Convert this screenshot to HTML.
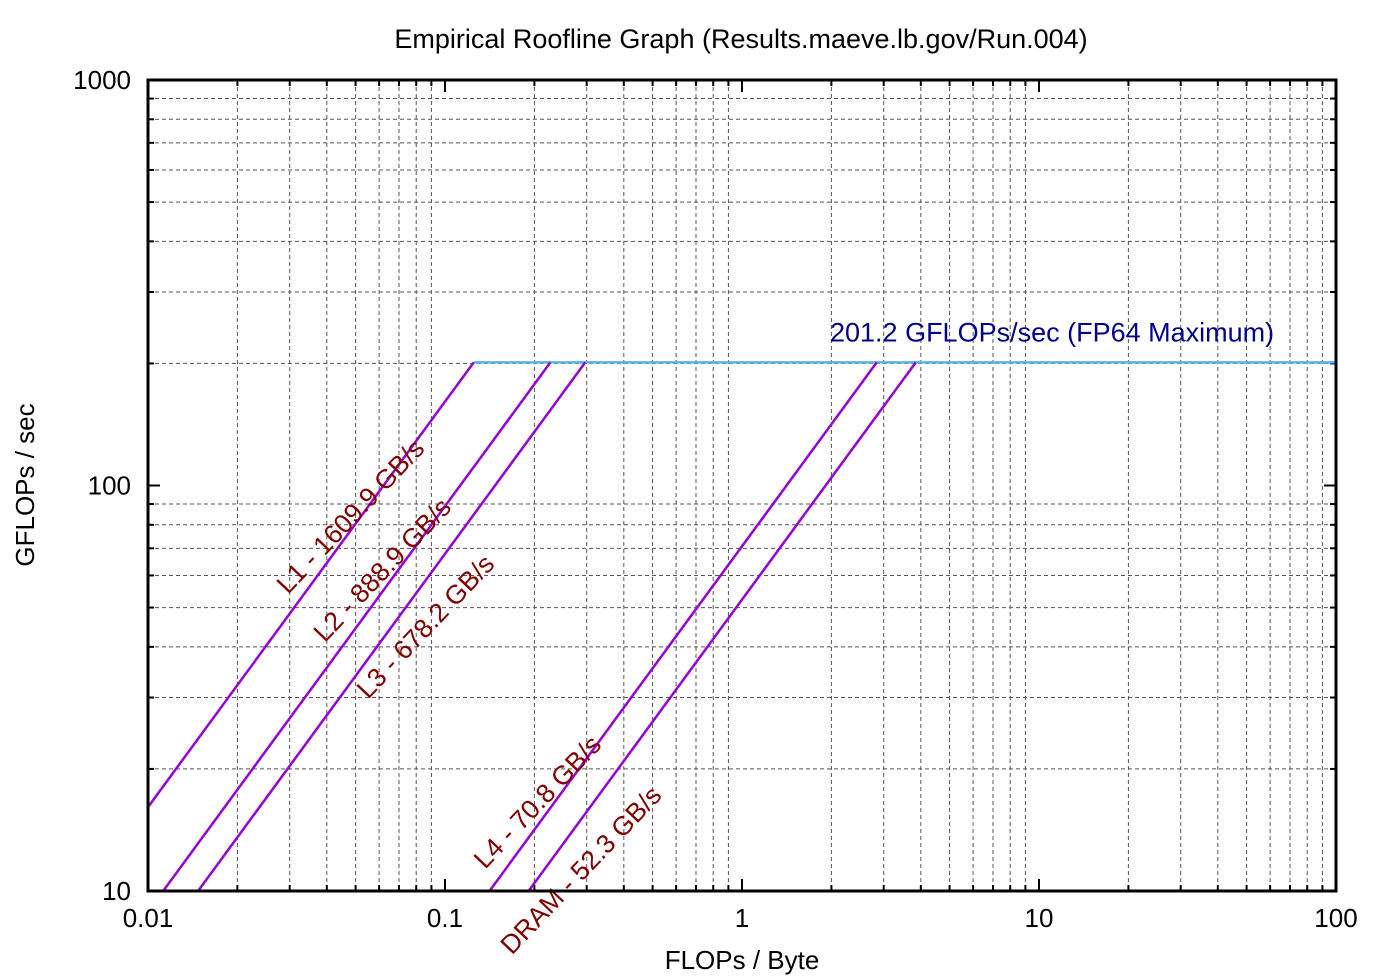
<!DOCTYPE html>
<html><head><meta charset="utf-8"><style>
html,body{margin:0;padding:0;background:#fff}
svg{display:block;font-family:"Liberation Sans",sans-serif}
</style></head><body>
<svg id="chart" width="1396" height="977" viewBox="0 0 1396 977" xmlns="http://www.w3.org/2000/svg">
<text x="741" y="48" font-size="27" text-anchor="middle" fill="#000">Empirical Roofline Graph (Results.maeve.lb.gov/Run.004)</text>
<g id="grid"></g>
<g id="marks"></g>
<rect x="148" y="80" width="1188" height="811" fill="none" stroke="#000" stroke-width="3"/>
<text x="742" y="969" font-size="26" text-anchor="middle">FLOPs / Byte</text>
<text transform="translate(34,485) rotate(-90)" font-size="26" text-anchor="middle">GFLOPs / sec</text>
</svg>
<script>
const xTicks=[0.01,0.1,1,10,100];
const xTickLabels=["0.01","0.1","1","10","100"];
const yTicks=[10,100,1000];
const yTickLabels=["10","100","1000"];
const levelNames=["L1","L2","L3","L4","DRAM"];
const bandwidths=[1609.9,888.9,678.2,70.8,52.3];
const peakFlops=[201.2];
const peakLabel=["201.2 GFLOPs/sec (FP64 Maximum)"];
const labelAnchorAI=[0.0296,0.0394,0.0551,0.1365,0.168];
const labelOffsetY=[-21,-27,41,-27,42];

const X0=148,X1=1336,Y0=891,Y1=80;
const xMin=0.01,xMax=100,yMin=10,yMax=1000;
function sx(v){return X0+(Math.log10(v)-Math.log10(xMin))/(Math.log10(xMax)-Math.log10(xMin))*(X1-X0);}
function sy(v){return Y0-(Math.log10(v)-Math.log10(yMin))/(Math.log10(yMax)-Math.log10(yMin))*(Y0-Y1);}
const NS="http://www.w3.org/2000/svg";
function mk(tag,attrs,parent){const e=document.createElementNS(NS,tag);for(const k in attrs)e.setAttribute(k,attrs[k]);parent.appendChild(e);return e;}
const grid=document.getElementById('grid'),marks=document.getElementById('marks'),svg=document.getElementById('chart');

for(let d=Math.log10(xMin);d<Math.log10(xMax);d++){
  for(let m=1;m<=9;m++){
    const v=m*Math.pow(10,d);const x=sx(v);
    if(m>1){const g=mk('line',{x1:x,x2:x,y1:Y1,y2:Y0,stroke:'#555','stroke-width':1,'stroke-dasharray':'4,3'},grid);
      
      }
    const len=m===1?12:6;
    const t1=mk('line',{x1:x,x2:x,y1:Y0,y2:Y0-len,stroke:'#000','stroke-width':2},grid);
    
    
    const t2=mk('line',{x1:x,x2:x,y1:Y1,y2:Y1+len,stroke:'#000','stroke-width':2},grid);
    
    
  }
}
for(let d=Math.log10(yMin);d<Math.log10(yMax);d++){
  for(let m=1;m<=9;m++){
    const v=m*Math.pow(10,d);const y=sy(v);
    if(m>1){const g=mk('line',{x1:X0,x2:X1,y1:y,y2:y,stroke:'#555','stroke-width':1,'stroke-dasharray':'4,3'},grid);
      
      }
    const len=m===1?12:6;
    const t1=mk('line',{x1:X0,x2:X0+len,y1:y,y2:y,stroke:'#000','stroke-width':2},grid);
    
    
    const t2=mk('line',{x1:X1,x2:X1-len,y1:y,y2:y,stroke:'#000','stroke-width':2},grid);
    
    
  }
}
xTicks.forEach((v,i)=>{const t=mk('text',{x:sx(v),y:927,'font-size':26,'text-anchor':'middle'},svg);t.textContent=xTickLabels[i];
  
  });
yTicks.forEach((v,i)=>{const t=mk('text',{x:131,y:sy(v)+9,'font-size':26,'text-anchor':'end'},svg);t.textContent=yTickLabels[i];
  
  });

const peak=peakFlops[0];
const xStart=peak/bandwidths[0];
const ceil=mk('line',{x1:sx(xStart),x2:X1,y1:sy(peak),y2:sy(peak),stroke:'#56b4e9','stroke-width':2.5},marks);


const pl=mk('text',{x:830,y:sy(peak)-21,'font-size':27,fill:'#00008b'},marks);pl.textContent=peakLabel[0];



bandwidths.forEach((bw,i)=>{
  let xa=xMin, ya=bw*xMin;
  if(ya<yMin){xa=yMin/bw;ya=yMin;}
  const xb=peak/bw;
  const l=mk('line',{x1:sx(xa),y1:sy(ya),x2:sx(xb),y2:sy(peak),stroke:'#9400d3','stroke-width':2.5},marks);
  
  
});
bandwidths.forEach((bw,i)=>{
  const ai=labelAnchorAI[i];
  const px=sx(ai), py=sy(bw*ai)+labelOffsetY[i];
  const t=mk('text',{x:px,y:py,'font-size':26.5,fill:'#800000',transform:'rotate(-46.5 '+px+' '+py+')'},marks);
  t.textContent=levelNames[i]+' - '+bw.toFixed(1)+' GB/s';
  
  
});
</script>
</body></html>
